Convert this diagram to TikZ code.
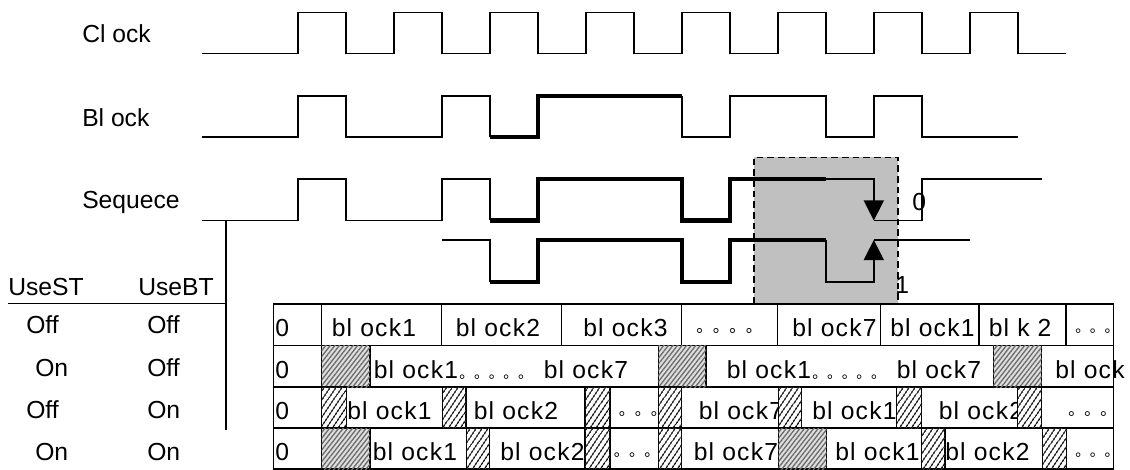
\documentclass[tikz,border=0pt]{standalone}
\usepackage{fontspec}
\setmainfont{Liberation Sans}
\newfontfamily\tabfont{Liberation Sans}[LetterSpace=5]
\newfontfamily\cjkdots{Noto Sans CJK SC}
\usetikzlibrary{arrows.meta,patterns.meta}
\definecolor{boxgray}{HTML}{C0C0C0}
\begin{document}
\begin{tikzpicture}[x=0.75pt,y=-0.75pt,
  thinwave/.style={line width=1.1pt,line join=miter},
  thickwave/.style={line width=3.4pt,line join=miter},
  gridline/.style={line width=1.1pt},
  dashline/.style={line width=1.1pt,dash pattern=on 5pt off 3pt},
  lbl/.style={anchor=base west,inner sep=0pt,font=\fontsize{18.5}{20}\selectfont},
  tlbl/.style={anchor=base west,inner sep=0pt,font=\fontsize{18.5}{20}\tabfont},
  dts/.style={anchor=base west,inner sep=0pt,font=\fontsize{#1}{#1}\cjkdots},
  ghatch/.style={gridline,fill=gray!25,postaction={pattern={Lines[angle=52,distance=2.7pt,line width=1pt]},pattern color=gray!85!black}},
  bhatch/.style={gridline,fill=white,postaction={pattern={Lines[angle=56,distance=4pt,line width=1.1pt]},pattern color=black}},
  arr/.style={-{Triangle[length=15pt,width=15pt]}}
]
\useasboundingbox (0,0) rectangle (1130,470);

% shaded selection box
\fill[boxgray] (753.8,157.5) rectangle (898.2,304);
\draw[dashline] (753.8,304) -- (753.8,157.5) -- (898.2,157.5) -- (898.2,304);

% signal labels
\node[lbl] (lclk) at (82,43) {Cl ock};
\node[lbl] (lblk) at (82,127) {Bl ock};
\node[lbl] (lseq) at (82,209) {Sequece};
\node[lbl] (l0) at (912,210) {0};
\node[lbl] (l1) at (895,293) {1};

% waveforms
\begin{scope}[x=36pt,xshift=151.35pt]
  % clock
  \draw[thinwave] (0,53.5) -| (2,12.5) -| (3,53.5) -| (4,12.5) -| (5,53.5) -| (6,12.5) -| (7,53.5)
     -| (8,12.5) -| (9,53.5) -| (10,12.5) -| (11,53.5) -| (12,12.5) -| (13,53.5) -| (14,12.5)
     -| (15,53.5) -| (16,12.5) -| (17,53.5) -- (18,53.5);
  % block
  \draw[thinwave] (0,137) -| (2,96) -| (3,137) -| (5,96) -| (6,137);
  \draw[thickwave] (6,137) -- (7,137) -- (7,96) -- (10,96);
  \draw[thinwave] (10,96) -- (10,137) -| (11,96) -| (13,137) -| (14,96) -| (15,137) -- (17,137);
  % sequence 1
  \draw[thinwave] (0,220.5) -| (2,179) -| (3,220.5) -| (5,179) -| (6,220.5);
  \draw[thickwave] (6,220.5) -- (7,220.5) -- (7,179) -- (10,179) -- (10,220.5) -- (11,220.5) -- (11,179) -- (13,179);
  \draw[thinwave,arr] (13,179) -- (14,179) -- (14,220.5);
  \draw[thinwave] (14,220.5) -| (15,179) -- (17.5,179);
  % sequence 2
  \draw[thinwave] (5,240) -| (6,282);
  \draw[thickwave] (6,282) -- (7,282) -- (7,240) -- (10,240) -- (10,282) -- (11,282) -- (11,240) -- (13,240);
  \draw[thinwave,arr] (13,240) -- (13,282) -- (14,282) -- (14,240);
  \draw[thinwave] (14,240) -- (16,240);
\end{scope}

% left mode table
\draw[gridline] (226,220.5) -- (226,430);
\draw[gridline] (8,303.3) -- (226,303.3);
\node[lbl] (hst) at (8,295) {UseST};
\node[lbl] (hbt) at (138,295) {UseBT};
\node[lbl] (a1) at (26,333.5) {Off};
\node[lbl] (b1) at (147,333.5) {Off};
\node[lbl] (a2) at (35,376.7) {On};
\node[lbl] (b2) at (147,376.7) {Off};
\node[lbl] (a3) at (26,418.3) {Off};
\node[lbl] (b3) at (147,418.3) {On};
\node[lbl] (a4) at (35,460) {On};
\node[lbl] (b4) at (147,460) {On};

% main table grid
\draw[gridline] (273.3,304) rectangle (1113.3,469);
\foreach \yy in {345.5,387,428} \draw[gridline] (273.3,\yy) -- (1113.3,\yy);
\draw[gridline] (321.7,304) -- (321.7,469);
\foreach \xx in {441.7,561.7,681.7,777.7,880.7,979,1066} \draw[gridline] (\xx,304) -- (\xx,345.5);

% row 1
\node[tlbl] (r1a) at (275,336.5) {0};
\node[tlbl] (r1b) at (331.5,336.5) {bl ock1};
\node[tlbl] (r1c) at (455.5,336.5) {bl ock2};
\node[tlbl] (r1d) at (583,336.5) {bl ock3};
\node[dts=12.4] (r1e) at (696,332.5) {。。。。};
\node[tlbl] (r1f) at (792,336.5) {bl ock7};
\node[tlbl] (r1g) at (890,336.5) {bl ock1};
\node[tlbl] (r1h) at (988.5,336.5) {bl k 2};
\node[dts=11] (r1i) at (1075,332.5) {。。。};

% row 2
\node[tlbl] (r2a) at (275,378) {0};
\node[tlbl] (r2b) at (373.5,378) {bl ock1\hspace{1pt}{\fontsize{11}{11}\cjkdots 。。。。。}};
\node[tlbl] (r2c) at (543.5,378) {bl ock7};
\node[tlbl] (r2d) at (726.5,378) {bl ock1\hspace{1pt}{\fontsize{11}{11}\cjkdots 。。。。。}};
\node[tlbl] (r2e) at (896.5,378) {bl ock7};
\node[tlbl] (r2f) at (1055,378) {bl ock};
\draw[ghatch] (321.7,345.5) rectangle (370,387);
\draw[ghatch] (658.3,345.5) rectangle (706,387);
\draw[ghatch] (993.3,345.5) rectangle (1041.7,387);

% row 3
\node[tlbl] (r3a) at (275,419.5) {0};
\node[tlbl] (r3b) at (347,419.5) {bl ock1};
\node[tlbl] (r3c) at (473.5,419.5) {bl ock2};
\node[dts=12] (r3d) at (618.5,415.5) {。。。};
\node[tlbl] (r3e) at (698.5,419.5) {bl ock7};
\node[tlbl] (r3f) at (812,419.5) {bl ock1};
\node[tlbl] (r3g) at (938.5,419.5) {bl ock2};
\node[dts=12] (r3h) at (1068,415.5) {。。。};
\foreach \xa/\xb in {321.7/346.7,442.7/466,585/610,658.3/681.7,778.3/801.7,896.7/921.7,1017.7/1041.7}
  \draw[bhatch] (\xa,387) rectangle (\xb,428);

% row 4
\node[tlbl] (r4a) at (275,460.5) {0};
\node[tlbl] (r4b) at (372.5,460.5) {bl ock1};
\node[tlbl] (r4c) at (500,460.5) {bl ock2};
\node[dts=11.5] (r4d) at (613.5,456.5) {。。。};
\node[tlbl] (r4e) at (693.5,460.5) {bl ock7};
\node[tlbl] (r4f) at (835,460.5) {bl ock1};
\node[tlbl] (r4g) at (945,460.5) {bl ock2};
\node[dts=11] (r4h) at (1075,456.5) {。。。};
\foreach \xa/\xb in {466.7/489.3,585/610,658.3/681.7,921.7/945,1042.3/1066.7}
  \draw[bhatch] (\xa,428) rectangle (\xb,469);
\draw[ghatch] (321.7,428) rectangle (370,469);
\draw[ghatch] (778.3,428) rectangle (826.7,469);
\end{tikzpicture}
\end{document}
